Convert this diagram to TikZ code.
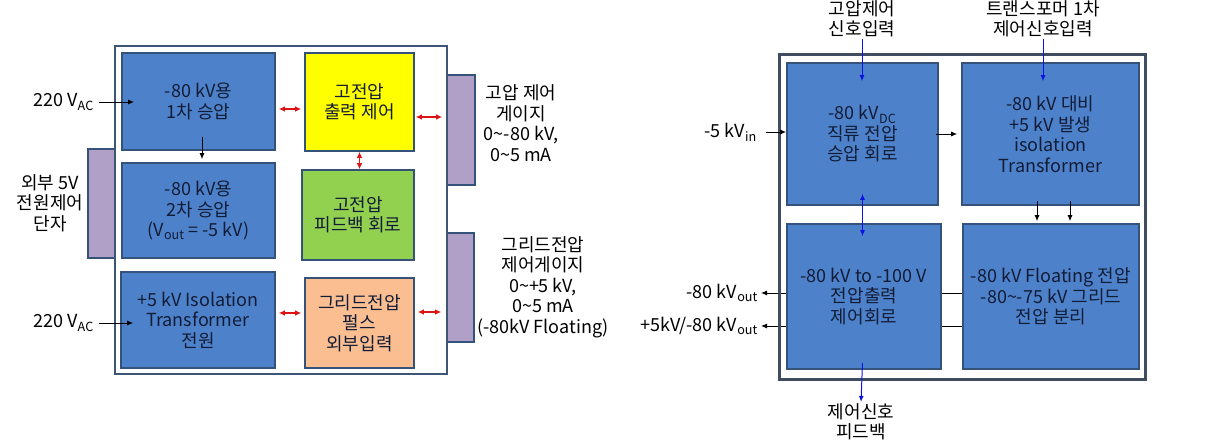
\documentclass[tikz,border=0pt]{standalone}
\usepackage{fontspec}
\setmainfont{Noto Sans CJK KR}
\usetikzlibrary{arrows.meta,backgrounds}
\definecolor{boxblue}{RGB}{77,130,202}
\definecolor{boxedge}{RGB}{52,82,122}
\definecolor{frameedge}{RGB}{62,86,118}
\definecolor{frameedgeR}{RGB}{64,76,96}
\definecolor{purfill}{RGB}{176,160,200}
\definecolor{ylwfill}{RGB}{255,255,0}
\definecolor{grnfill}{RGB}{146,208,80}
\definecolor{orgfill}{RGB}{250,190,145}
\definecolor{boxtext}{RGB}{18,28,55}
\definecolor{redarrow}{RGB}{220,20,20}
\definecolor{bluearrow}{RGB}{10,20,230}
\newcommand{\sbs}[1]{\textsubscript{#1}}
\begin{document}
\begin{tikzpicture}[x=1pt,y=-1pt,
  font=\fontsize{18}{20.5}\selectfont,
  basebox/.style={draw=boxedge, line width=1.6pt, align=center, inner sep=2pt, text=boxtext},
  bluebox/.style={basebox, fill=boxblue},
  ylwbox/.style={basebox, fill=ylwfill},
  grnbox/.style={basebox, fill=grnfill},
  orgbox/.style={basebox, fill=orgfill},
  purbar/.style={draw=boxedge, line width=1.6pt, fill=purfill, inner sep=0pt},
  frmL/.style={draw=frameedge, line width=2.2pt, inner sep=0pt},
  frmR/.style={draw=frameedgeR, line width=3pt, inner sep=0pt},
  lab/.style={align=center, inner sep=1.5pt, text=black},
  blkarr/.style={draw=black, line width=1pt, -{Latex[length=6pt,width=5pt]}},
  redarr/.style={draw=redarrow, line width=1.1pt, {Latex[length=6pt,width=5.5pt]}-{Latex[length=6pt,width=5.5pt]}},
  bluarr/.style={draw=bluearrow, line width=1pt, -{Latex[length=6pt,width=5pt]}},
  bludbl/.style={draw=bluearrow, line width=1pt, {Latex[length=6pt,width=5pt]}-{Latex[length=6pt,width=5pt]}}
]
\useasboundingbox (0,0) rectangle (1206,444);

% ---------------- left diagram ----------------
\node[purbar, minimum width=27pt, minimum height=109pt] (pl) at (101.5,203.5) {};
\node[purbar, minimum width=28pt, minimum height=110pt] (pr1) at (461,130) {};
\node[purbar, minimum width=27pt, minimum height=109pt] (pr2) at (460.5,287.5) {};
\node[frmL, minimum width=332pt, minimum height=328pt] (fL) at (281,210) {};

\node[bluebox, minimum width=153pt, minimum height=97pt] (b1) at (198.5,101.5) {-80 kV용\\1차 승압};
\node[bluebox, minimum width=153pt, minimum height=95pt] (b2) at (198.5,210.5) {-80 kV용\\2차 승압\\(V\sbs{out} = -5 kV)};
\node[bluebox, minimum width=154pt, minimum height=96pt] (b3) at (198,320) {+5 kV Isolation\\Transformer\\전원};
\node[ylwbox, minimum width=109pt, minimum height=98pt] (y1) at (359.5,102) {고전압\\출력 제어};
\node[grnbox, minimum width=112pt, minimum height=90pt] (g1) at (358,215) {고전압\\피드백 회로};
\node[orgbox, minimum width=109pt, minimum height=90pt] (o1) at (359.5,323) {그리드전압\\펄스\\외부입력};

\node[lab, anchor=east, inner xsep=5pt] (vac1) at (99,102) {220 V\sbs{AC}};
\node[lab, anchor=east, inner xsep=5pt] (vac2) at (99,323) {220 V\sbs{AC}};
\node[lab] (ext) at (50,203) {외부 5V\\전원제어\\단자};
\node[lab] (gg1) at (521,123) {고압 제어\\게이지\\0\textasciitilde-80 kV,\\0\textasciitilde5 mA};
\node[lab] (gg2) at (543,287) {그리드전압\\제어게이지\\0\textasciitilde+5 kV,\\0\textasciitilde5 mA\\(-80kV Floating)};

\draw[blkarr] (vac1.east) -- ([xshift=13pt]vac1.east -| b1.west);
\draw[blkarr] (vac2.east) -- ([xshift=13pt]vac2.east -| b3.west);
\draw[blkarr] ([shift={(3.5,-14)}]b1.south) -- ([shift={(3.5,-3)}]b1.south |- b2.north);
\draw[redarr] ([shift={(3,7.5)}]b1.east) -- ([shift={(-3,7.5)}]b1.east -| y1.west);
\draw[redarr] ([shift={(1,15)}]y1.east) -- ([shift={(-4,15)}]y1.east -| pr1.west);
\draw[redarr] (y1.south) -- (y1.south |- g1.north);
\draw[redarr] ([shift={(3,-7)}]b3.east) -- ([shift={(-3,-7)}]b3.east -| o1.west);
\draw[redarr] ([shift={(3,-11)}]o1.east) -- ([shift={(-5,-11)}]o1.east -| pr2.west);

% ---------------- right diagram ----------------
\node[frmR, minimum width=366pt, minimum height=324pt] (fR) at (962,217) {};
\node[bluebox, minimum width=151pt, minimum height=142pt] (A) at (862.5,134) {-80 kV\sbs{DC}\\직류 전압\\승압 회로};
\node[bluebox, minimum width=177pt, minimum height=142pt] (B) at (1050.5,134) {-80 kV 대비\\+5 kV 발생\\isolation\\Transformer};
\node[bluebox, minimum width=154pt, minimum height=145pt] (C) at (864,296.5) {-80 kV to -100 V\\전압출력\\제어회로};
\node[bluebox, minimum width=176pt, minimum height=145pt] (D) at (1051,296.5) {-80 kV Floating 전압\\-80\textasciitilde-75 kV 그리드\\전압 분리};

\node[lab] (sig1) at (862,19) {고압제어\\신호입력};
\node[lab] (sig2) at (1043,19) {트랜스포머 1차\\제어신호입력};
\node[lab] (fb) at (861,422) {제어신호\\피드백};
\node[lab, anchor=east, inner xsep=9pt] (vin) at (766,132) {-5 kV\sbs{in}};
\node[lab, anchor=east, inner xsep=3pt] (out1) at (761,293) {-80 kV\sbs{out}};
\node[lab, anchor=east, inner xsep=3pt] (out2) at (761,326) {+5kV/-80 kV\sbs{out}};

\begin{pgfonlayer}{background}
\draw[blkarr] (D.west |- out1.east) -- (out1.east);
\draw[blkarr] (D.west |- out2.east) -- (out2.east);
\end{pgfonlayer}

\draw[bluarr] (sig1.south) -- ([yshift=-19pt]sig1.south |- A.north);
\draw[bluarr] (sig2.south) -- ([yshift=-19pt]sig2.south |- B.north);
\draw[bludbl] ([yshift=12pt]A.south) -- ([yshift=-13pt]A.south |- C.north);
\draw[bluarr] ([yshift=7pt]A.south |- C.south) -- (fb.north);
\draw[blkarr] (vin.east) -- (vin.east -| A.west);
\draw[blkarr] ([xshift=-3pt]A.east) -- ([xshift=-4pt]A.east -| B.west);
\draw[blkarr] ([shift={(-13.5,-5)}]B.south) -- ([shift={(-13.5,-2)}]B.south |- D.north);
\draw[blkarr] ([shift={(19.5,-5)}]B.south) -- ([shift={(19.5,-2)}]B.south |- D.north);
\end{tikzpicture}
\end{document}
